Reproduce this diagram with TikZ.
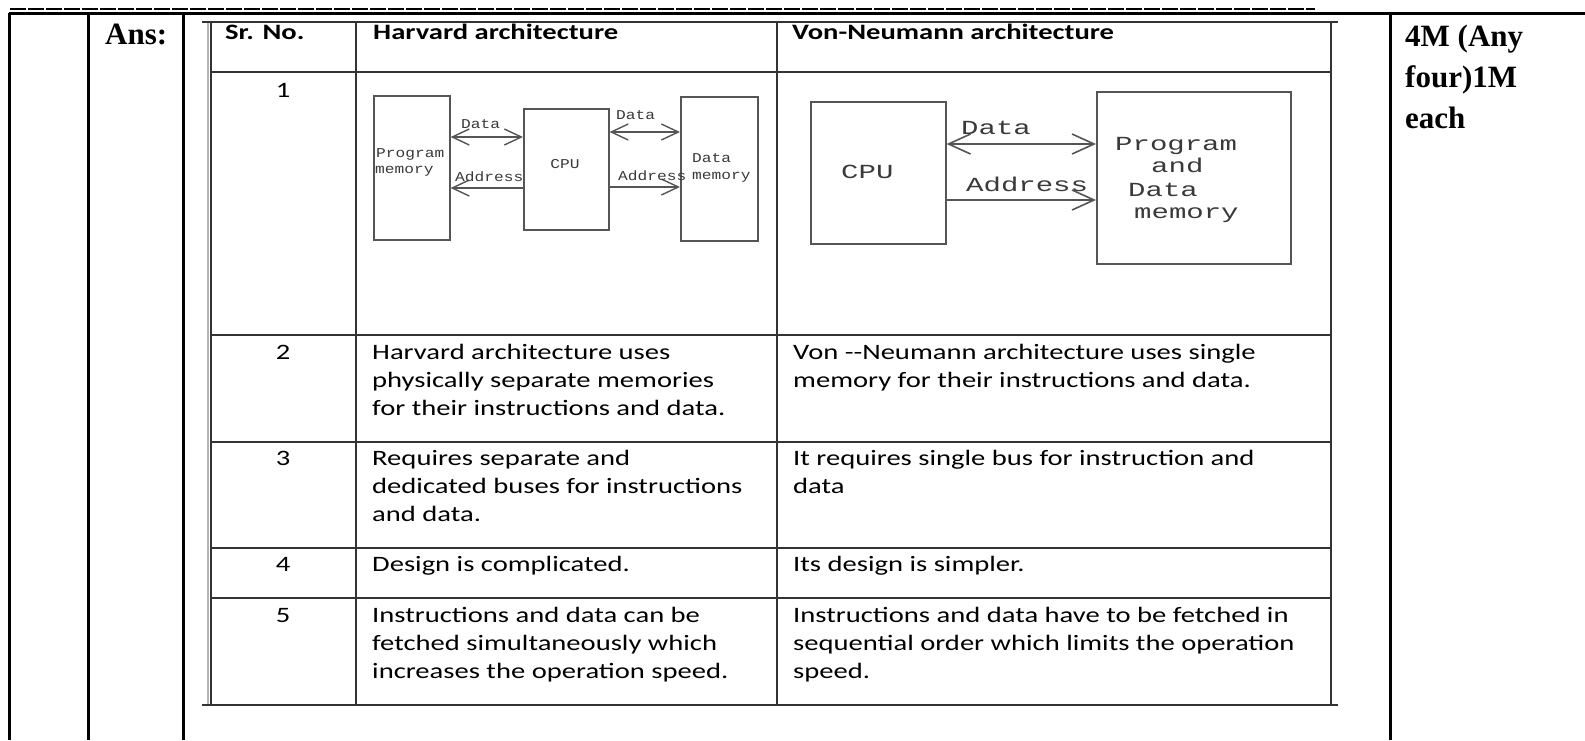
\documentclass[tikz,border=0pt]{standalone}
\usepackage{fontspec}
\setmainfont{Liberation Serif}
\newfontfamily\calfont[FakeStretch=1.3]{Carlito}
\newfontfamily\hvfont[FakeStretch=1.2]{Liberation Mono}
\newfontfamily\vnfont[FakeStretch=1.45]{Liberation Mono}
\usetikzlibrary{arrows.meta}
\definecolor{tabline}{HTML}{333333}
\definecolor{shadowgray}{HTML}{B5B5B5}
\definecolor{diag}{HTML}{555555}
\definecolor{diagtext}{HTML}{3A3A3A}
\newcommand\celltext[1]{\begin{tabular}[t]{@{}l@{}}#1\end{tabular}}
\begin{document}
\begin{tikzpicture}[x=1pt,y=-1pt,
  outer/.style={line width=3pt, black},
  grid/.style={line width=2pt, tabline},
  body/.style={anchor=base west, inner sep=0pt, font=\calfont\fontsize{22}{28}\selectfont},
  head/.style={anchor=base west, inner sep=0pt, font=\calfont\bfseries\fontsize{22}{28}\selectfont},
  num/.style={anchor=base, inner sep=0pt, font=\calfont\fontsize{22}{28}\selectfont},
  bold/.style={anchor=base west, inner sep=0pt, font=\bfseries\fontsize{31}{41}\selectfont},
  hbox/.style={draw=diag, line width=1.6pt, inner sep=0pt, anchor=north west},
  hlab/.style={anchor=base west, inner sep=0pt, text=diagtext, font=\hvfont\fontsize{13.5}{16}\selectfont},
  vlab/.style={anchor=base west, inner sep=0pt, text=diagtext, font=\vnfont\fontsize{20}{24}\selectfont},
  harrow/.style={draw=diag, line width=1.4pt, >={Straight Barb[length=17pt,width=16pt]}},
  varrow/.style={draw=diag, line width=1.6pt, >={Straight Barb[length=22pt,width=20pt]}}
]
\useasboundingbox (0,0) rectangle (1585,740);
\fill[white] (0,0) rectangle (1585,740);

% top dashed rule and outer table
\draw[line width=2pt, black, dash pattern=on 16pt off 2pt] (10,9) -- (1315,9);
\draw[outer] (9,13) -- (1585,13);
\foreach \xx in {9,88,183,1390} \draw[outer] (\xx,13) -- (\xx,740);

\node[bold] (ans) at (105,44) {Ans:};
\node[bold] (marks) at (1405,46) {\celltext{4M (Any\\four)1M\\each}};

% inner table
\draw[line width=1.5pt, shadowgray] (208,22) -- (208,705);
\draw[grid] (202,22) -- (1338,22);
\draw[grid] (202,705) -- (1338,705);
\foreach \yy in {72,335,442,548,598} \draw[grid] (211,\yy) -- (1331,\yy);
\foreach \xx in {211,356,777,1331} \draw[grid] (\xx,22) -- (\xx,705);

% header
\node[head] (h0) at (225,39) {Sr. No.};
\node[head] (h1) at (373,39) {Harvard architecture};
\node[head] (h2) at (792,39) {Von-Neumann architecture};

% numbers
\node[num] (n1) at (283,97) {1};
\node[num] (n2) at (283,359) {2};
\node[num] (n3) at (283,465) {3};
\node[num] (n4) at (283,571) {4};
\node[num] (n5) at (283,622) {5};

% row texts
\node[body] (a2) at (372,359) {\celltext{Harvard architecture uses\\physically separate memories\\for their instructions and data.}};
\node[body] (b2) at (793,359) {\celltext{Von --Neumann architecture uses single\\memory for their instructions and data.}};
\node[body] (a3) at (372,465) {\celltext{Requires separate and\\dedicated buses for instructions\\and data.}};
\node[body] (b3) at (793,465) {\celltext{It requires single bus for instruction and\\data}};
\node[body] (a4) at (372,571) {Design is complicated.};
\node[body] (b4) at (793,571) {Its design is simpler.};
\node[body] (a5) at (372,622) {\celltext{Instructions and data can be\\fetched simultaneously which\\increases the operation speed.}};
\node[body] (b5) at (793,622) {\celltext{Instructions and data have to be fetched in\\sequential order which limits the operation\\speed.}};

% Harvard diagram
\node[hbox, minimum width=76pt, minimum height=144pt] (pm) at (373,95) {};
\node[hbox, minimum width=85pt, minimum height=121pt] (hcpu) at (523,108) {};
\node[hbox, minimum width=77pt, minimum height=144pt] (dm) at (680,96) {};
\node[hlab] (pmt1) at (376,157) {Program};
\node[hlab] (pmt2) at (375,173) {memory};
\node[hlab, anchor=base] (hcput) at (565,168) {CPU};
\node[hlab] (dmt1) at (692,162) {Data};
\node[hlab] (dmt2) at (692,179) {memory};
\coordinate (hy1) at (0,137);
\coordinate (hy2) at (0,188);
\coordinate (hy3) at (0,132);
\coordinate (hy4) at (0,187);
\draw[harrow,<->] (pm.east |- hy1) -- (hcpu.west |- hy1);
\draw[harrow,->] (hcpu.west |- hy2) -- (pm.east |- hy2);
\draw[harrow,<->] (hcpu.east |- hy3) -- (dm.west |- hy3);
\draw[harrow,->] (hcpu.east |- hy4) -- (dm.west |- hy4);
\node[hlab] (hl1) at (461,128) {Data};
\node[hlab] (hl2) at (455,181) {Address};
\node[hlab] (hl3) at (616,119) {Data};
\node[hlab] (hl4) at (618,180) {Address};

% Von-Neumann diagram
\node[hbox, minimum width=135pt, minimum height=142pt] (vcpu) at (810,101) {};
\node[hbox, minimum width=194pt, minimum height=172pt] (vmem) at (1096,91) {};
\node[vlab] (vcput) at (841,178) {CPU};
\node[vlab] (vm1) at (1115,150) {Program};
\node[vlab] (vm2) at (1151,172) {and};
\node[vlab] (vm3) at (1128,196) {Data};
\node[vlab] (vm4) at (1134,218) {memory};
\coordinate (vy1) at (0,144);
\coordinate (vy2) at (0,200);
\draw[varrow,<->] (vcpu.east |- vy1) -- (vmem.west |- vy1);
\draw[varrow,->] (vcpu.east |- vy2) -- (vmem.west |- vy2);
\node[vlab] (vl1) at (961,134) {Data};
\node[vlab] (vl2) at (966,191) {Address};
\end{tikzpicture}
\end{document}
